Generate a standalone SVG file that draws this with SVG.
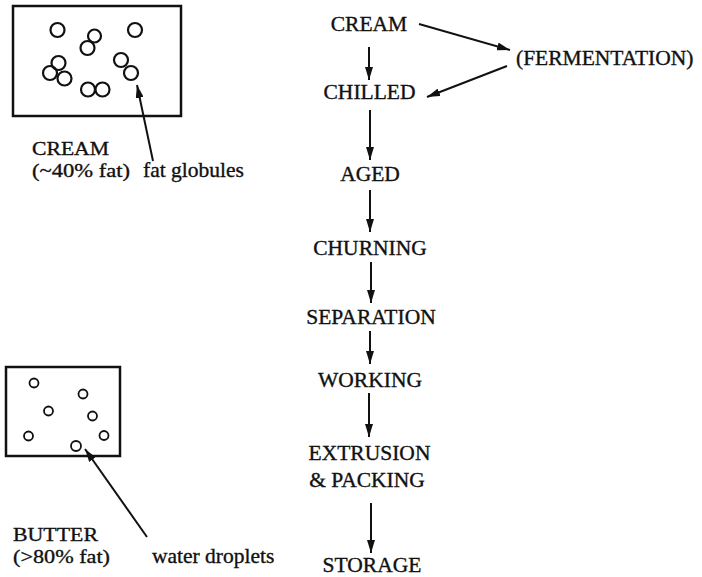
<svg xmlns="http://www.w3.org/2000/svg" width="702" height="577" viewBox="0 0 702 577">
<style>
text{font-family:"Liberation Serif","Times New Roman",serif;font-size:21.5px;fill:#111;stroke:#111;stroke-width:0.35}
.s{font-size:19.8px}
.c{text-anchor:middle}
.box{fill:none;stroke:#111;stroke-width:2.5}
.g{fill:none;stroke:#111;stroke-width:2.2}
.d{fill:none;stroke:#111;stroke-width:1.8}
.ar{fill:none;stroke:#111;stroke-width:2}
</style>
<defs>
<marker id="ah" markerUnits="userSpaceOnUse" markerWidth="14" markerHeight="8" refX="13" refY="4" orient="auto">
<path d="M0,0 L13,4 L0,8 z" fill="#111"/>
</marker>
</defs>
<rect width="702" height="577" fill="#fff"/>
<g id="cream-sketch">
<rect class="box" x="13" y="6" width="168" height="110"/>
<circle class="g" cx="57.5" cy="30" r="7"/>
<circle class="g" cx="94.5" cy="36" r="6.5"/>
<circle class="g" cx="87.5" cy="48" r="7"/>
<circle class="g" cx="135" cy="30" r="7"/>
<circle class="g" cx="58.5" cy="63" r="7"/>
<circle class="g" cx="50" cy="73" r="7"/>
<circle class="g" cx="64.5" cy="78.5" r="7"/>
<circle class="g" cx="121" cy="60" r="7"/>
<circle class="g" cx="131" cy="73" r="7"/>
<circle class="g" cx="88" cy="89.5" r="7"/>
<circle class="g" cx="102.5" cy="89.5" r="7"/>
<text class="s" x="32" y="155" textLength="77" lengthAdjust="spacingAndGlyphs">CREAM</text>
<text class="s" x="32" y="177" textLength="98" lengthAdjust="spacingAndGlyphs">(~40% fat)</text>
<text x="143" y="177">fat globules</text>
</g>
<g id="butter-sketch">
<rect class="box" x="6" y="367" width="114" height="89"/>
<circle class="d" cx="34" cy="383" r="4.5"/>
<circle class="d" cx="83" cy="394" r="4.5"/>
<circle class="d" cx="48.5" cy="411" r="4.5"/>
<circle class="d" cx="92.5" cy="416" r="4.5"/>
<circle class="d" cx="28.5" cy="436" r="4.5"/>
<circle class="d" cx="104" cy="435.5" r="4.5"/>
<circle class="d" cx="76" cy="446" r="5"/>
<text class="s" x="13" y="541" textLength="85" lengthAdjust="spacingAndGlyphs">BUTTER</text>
<text class="s" x="13" y="563" textLength="97" lengthAdjust="spacingAndGlyphs">(&gt;80% fat)</text>
<text x="152" y="563">water droplets</text>
</g>
<g id="n-cream"><text class="c" x="369" y="31">CREAM</text></g>
<g id="n-fermentation"><text x="516" y="65">(FERMENTATION)</text></g>
<g id="n-chilled"><text class="c" x="369.5" y="99">CHILLED</text></g>
<g id="n-aged"><text class="c" x="370" y="181">AGED</text></g>
<g id="n-churning"><text class="c" x="370" y="255">CHURNING</text></g>
<g id="n-separation"><text class="c" x="371" y="324">SEPARATION</text></g>
<g id="n-working"><text class="c" x="370" y="387">WORKING</text></g>
<g id="n-extrusion"><text class="c" x="369.5" y="460">EXTRUSION<tspan x="367" y="487">&amp; PACKING</tspan></text></g>
<g id="n-storage"><text class="c" x="372" y="572">STORAGE</text></g>
<g id="connectors">
<line class="ar" x1="153" y1="161" x2="137" y2="85" marker-end="url(#ah)"/>
<line class="ar" x1="147" y1="537" x2="85" y2="449" marker-end="url(#ah)"/>
<line class="ar" x1="419" y1="24" x2="510" y2="50" marker-end="url(#ah)"/>
<line class="ar" x1="507" y1="66" x2="427" y2="97" marker-end="url(#ah)"/>
<line class="ar" x1="369" y1="47" x2="369" y2="80" marker-end="url(#ah)"/>
<line class="ar" x1="370" y1="110" x2="370" y2="160" marker-end="url(#ah)"/>
<line class="ar" x1="370" y1="190" x2="370" y2="232" marker-end="url(#ah)"/>
<line class="ar" x1="371" y1="262" x2="371" y2="303" marker-end="url(#ah)"/>
<line class="ar" x1="370" y1="331" x2="370" y2="364" marker-end="url(#ah)"/>
<line class="ar" x1="369" y1="393" x2="369" y2="437" marker-end="url(#ah)"/>
<line class="ar" x1="371" y1="503" x2="371" y2="553" marker-end="url(#ah)"/>
</g>
</svg>
